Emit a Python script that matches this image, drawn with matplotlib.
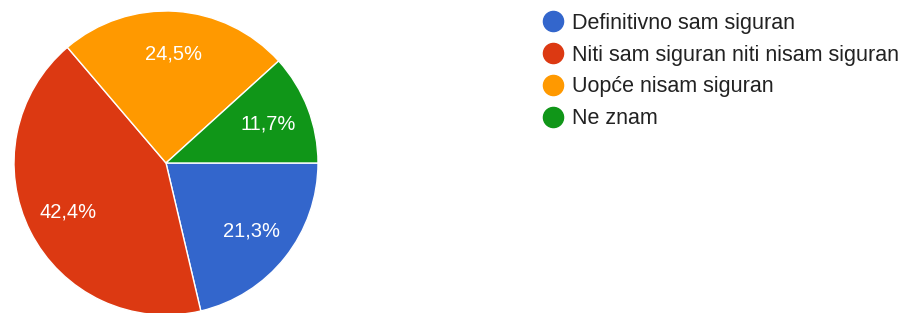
import matplotlib
matplotlib.use('Agg')
import matplotlib.pyplot as plt
from matplotlib.lines import Line2D

labels = ['Definitivno sam siguran', 'Niti sam siguran niti nisam siguran',
          'Uopće nisam siguran', 'Ne znam']
shares = [21.3, 42.4, 24.5, 11.7]
colors = ['#3366cc', '#dc3912', '#ff9900', '#109618']

plt.rcParams['font.family'] = ['Liberation Sans', 'DejaVu Sans']

fig = plt.figure(figsize=(9.07, 3.13), dpi=100)
ax = fig.add_axes([14 / 907, -2 / 313, 304 / 907, 304 / 313])

ax.pie(shares, colors=colors, startangle=0, counterclock=False,
       autopct=lambda p: f'{p:.1f}%'.replace('.', ','), pctdistance=0.72,
       wedgeprops=dict(edgecolor='white', linewidth=1),
       textprops=dict(color='white', fontsize=14.5))
ax.set_xlim(-1, 1)
ax.set_ylim(-1, 1)
ax.set_aspect('equal')

handles = [Line2D([], [], linestyle='none', marker='o', markersize=14.5,
                  markerfacecolor=c, markeredgecolor=c) for c in colors]
fig.legend(handles, labels, loc='upper left', bbox_to_anchor=(529 / 907, 1.0),
           frameon=False, fontsize=15.5, labelcolor='#222222',
           handletextpad=0.4, labelspacing=0.5, borderpad=0.1,
           handlelength=1.0)

fig.savefig('out.png', dpi=100)
